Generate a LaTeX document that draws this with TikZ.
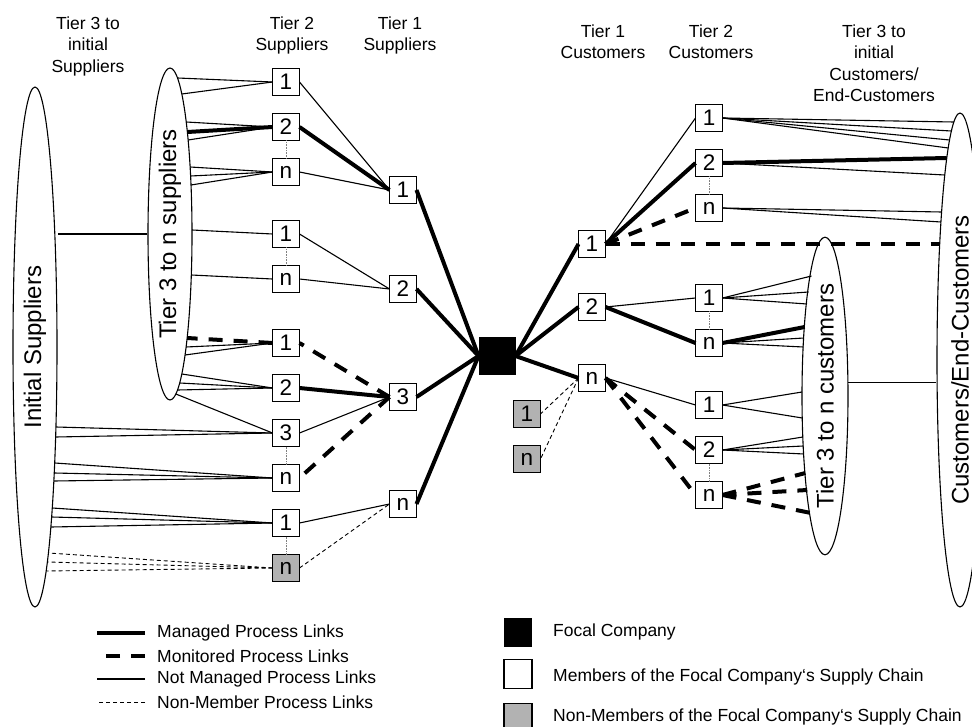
\documentclass[tikz,border=0pt]{standalone}
\usepackage{fontspec}
\setmainfont{Liberation Sans}
\usepackage{tikz}
\usetikzlibrary{shapes,positioning}
\definecolor{nmgrey}{RGB}{178,178,178}
\tikzstyle{managed} = [line width=4pt]
\tikzstyle{monitored} = [line width=4pt, dash pattern=on 14pt off 11pt]
\tikzstyle{notmanaged} = [line width=1.1pt]
\tikzstyle{nonmember} = [line width=0.9pt, dash pattern=on 4pt off 3pt]
\tikzstyle{tierdots} = [line width=0.6pt, densely dotted, gray]
\tikzstyle{member} = [rectangle, draw, fill=white, line width=1.1pt, minimum size=27pt, inner sep=0pt, outer sep=0pt, font=\fontsize{22.5}{25}\selectfont]
\tikzstyle{nonmemberbox} = [member, fill=nmgrey]
\tikzstyle{focalbox} = [rectangle, fill=black, minimum size=37pt, inner sep=0pt, outer sep=0pt]
\tikzstyle{tiergroup} = [ellipse, draw, line width=1.1pt, inner sep=0pt, font=\fontsize{24}{28}\selectfont]
\tikzstyle{tierhead} = [align=center, anchor=north, inner sep=0pt, font=\fontsize{17.5}{21.5}\selectfont]
\tikzstyle{legendtext} = [anchor=west, inner sep=0pt, font=\fontsize{17.5}{21}\selectfont]

\begin{document}
\begin{tikzpicture}[x=1pt, y=-1pt, node distance=18pt]
\useasboundingbox (0,0) rectangle (972,727);

% Column headings
\node (hsup3) [tierhead] at (88,16.5) {Tier 3 to\\initial\\Suppliers};
\node (hsup2) [tierhead] at (292,16.5) {Tier 2\\Suppliers};
\node (hsup1) [tierhead] at (400,16.5) {Tier 1\\Suppliers};
\node (hcus1) [tierhead] at (603,24.5) {Tier 1\\Customers};
\node (hcus2) [tierhead] at (711,24.5) {Tier 2\\Customers};
\node (hcus3) [tierhead] at (874,24.5) {Tier 3 to\\initial\\Customers/\\End-Customers};

% Supplier groups
\node (osup) [tiergroup, minimum width=44pt, minimum height=520pt] at (35,347) {\rotatebox{90}{Initial Suppliers}};
\node (isup) [tiergroup, minimum width=44pt, minimum height=332pt] at (170,234) {\rotatebox{90}{Tier 3 to n suppliers}};

% Tier 2 suppliers
\node (s2a) [member] at (286,82) {1};
\node (s2b) [member, below=of s2a] {2};
\node (s2c) [member, below=of s2b] {n};
\node (s2d) [member] at (286,234) {1};
\node (s2e) [member, below=of s2d] {n};
\node (s2f) [member] at (286,343) {1};
\node (s2g) [member, below=of s2f] {2};
\node (s2h) [member, below=of s2g] {3};
\node (s2i) [member, below=of s2h] {n};
\node (s2j) [member, below=of s2i] {1};
\node (s2k) [nonmemberbox, below=of s2j] {n};

% Tier 1 suppliers
\node (s1a) [member] at (403,190) {1};
\node (s1b) [member] at (403,289) {2};
\node (s1c) [member] at (403,397) {3};
\node (s1d) [member] at (403,504) {n};

% Focal company
\node (focal) [focalbox] at (497,356) {};

% Tier 1 customers
\node (c1a) [member] at (592,244) {1};
\node (c1b) [member] at (592,307) {2};
\node (c1c) [member] at (592,378) {n};
\node (g1) [nonmemberbox] at (527,414) {1};
\node (gn) [nonmemberbox, below=of g1] {n};

% Tier 2 customers
\node (c2a) [member] at (709,118) {1};
\node (c2b) [member, below=of c2a] {2};
\node (c2c) [member, below=of c2b] {n};
\node (c2d) [member] at (709,298) {1};
\node (c2e) [member, below=of c2d] {n};
\node (c2f) [member] at (709,405) {1};
\node (c2g) [member, below=of c2f] {2};
\node (c2h) [member, below=of c2g] {n};

% Customer groups
\node (icus) [tiergroup, minimum width=46pt, minimum height=296pt] at (825,396) {\rotatebox{90}{Tier 3 to n customers}};
\node (ocus) [tiergroup, minimum width=46pt, minimum height=494pt] at (960,360) {\rotatebox{90}{Customers/End-Customers}};

% Links between the groups
\draw[notmanaged] (isup.west) -- (isup.west -| osup.east);
\draw[notmanaged] (icus.30) -- (icus.30 -| ocus.west);

% Links into the supplier ellipses
\foreach \ey/\tgt/\lnk in {78/s2a/notmanaged, 94/s2a/notmanaged, 122/s2b/notmanaged, 132/s2b/managed, 140/s2b/notmanaged, 167/s2c/notmanaged, 176/s2c/notmanaged, 185/s2c/notmanaged, 230/s2d/notmanaged, 275/s2e/notmanaged, 338/s2f/monitored, 347/s2f/notmanaged, 355/s2f/notmanaged, 374/s2g/notmanaged, 383/s2g/notmanaged, 390/s2g/notmanaged, 394/s2h/notmanaged}{
  \pgfmathsetmacro{\ex}{170+22*sqrt(1-((\ey-234)/166)^2)}
  \coordinate (tip) at (\ex,\ey);
  \draw[\lnk] (\tgt.west) -- (tip);
}
\foreach \ey/\tgt/\lnk in {427/s2h/notmanaged, 437/s2h/notmanaged, 463/s2i/notmanaged, 473/s2i/notmanaged, 481/s2i/notmanaged, 508/s2j/notmanaged, 517/s2j/notmanaged, 527/s2j/notmanaged, 553/s2k/nonmember, 562/s2k/nonmember, 571/s2k/nonmember}{
  \pgfmathsetmacro{\ex}{35+22*sqrt(1-((\ey-347)/260)^2)}
  \coordinate (tip) at (\ex,\ey);
  \draw[\lnk] (\tgt.west) -- (tip);
}

% Links into the customer ellipses
\foreach \ey/\src/\lnk in {122/c2a/notmanaged, 131/c2a/notmanaged, 140/c2a/notmanaged, 148/c2a/notmanaged, 158/c2b/managed, 175/c2b/notmanaged, 212/c2c/notmanaged, 222/c2c/notmanaged, 244/c1a/monitored}{
  \pgfmathsetmacro{\ex}{960-23*sqrt(1-((\ey-360)/247)^2)}
  \coordinate (tip) at (\ex,\ey);
  \draw[\lnk] (\src.east) -- (tip);
}
\foreach \ey/\src/\lnk in {276/c2d/notmanaged, 292/c2d/notmanaged, 304/c2d/notmanaged, 327/c2e/managed, 338/c2e/notmanaged, 347/c2e/notmanaged, 392/c2f/notmanaged, 418/c2f/notmanaged, 437/c2g/notmanaged, 446/c2g/notmanaged, 454/c2g/notmanaged, 473/c2h/monitored, 490/c2h/monitored, 513/c2h/monitored}{
  \pgfmathsetmacro{\ex}{825-23*sqrt(1-((\ey-396)/148)^2)}
  \coordinate (tip) at (\ex,\ey);
  \draw[\lnk] (\src.east) -- (tip);
}

% Links between the tiers
\foreach \a/\b/\lnk in {s2a.east/s1a.west/notmanaged, s2b.east/s1a.west/managed, s2c.east/s1a.west/notmanaged, s2d.east/s1b.west/notmanaged, s2e.east/s1b.west/notmanaged, s1c.west/s2f.east/monitored, s2g.east/s1c.west/managed, s2h.east/s1c.west/notmanaged, s1c.west/s2i.east/monitored, s2j.east/s1d.west/notmanaged, s2k.east/s1d.west/nonmember, c1a.east/c2a.west/notmanaged, c1a.east/c2b.west/managed, c1a.east/c2c.west/monitored, c1b.east/c2d.west/notmanaged, c1b.east/c2e.west/managed, c1c.east/c2f.west/notmanaged, c1c.east/c2g.west/monitored, c1c.east/c2h.west/monitored, c1c.west/g1.east/nonmember, c1c.west/gn.east/nonmember}
  \draw[\lnk] (\a) -- (\b);
\foreach \s in {s1a,s1b,s1c,s1d}
  \draw[managed] (\s.east) -- (focal.west);
\foreach \c in {c1a,c1b,c1c}
  \draw[managed] (focal.east) -- (\c.west);
\foreach \a/\b in {s2b/s2c, s2d/s2e, s2h/s2i, s2j/s2k, c2b/c2c, c2d/c2e, c2g/c2h}
  \draw[tierdots] (\a.south) -- (\b.north);

% Legend
\node (lgmanaged) [legendtext] at (157,633) {Managed Process Links};
\node (lgmonitored) [legendtext] at (157,656) {Monitored Process Links};
\node (lgnotmanaged) [legendtext] at (157,679) {Not Managed Process Links};
\node (lgnonmember) [legendtext] at (157,702) {Non-Member Process Links};
\draw[managed] ([xshift=-12pt]lgmanaged.west) -- ++(-48pt,0);
\draw[monitored] ([xshift=-12pt]lgmonitored.west) -- ++(-48pt,0);
\draw[notmanaged] ([xshift=-12pt]lgnotmanaged.west) -- ++(-48pt,0);
\draw[nonmember] ([xshift=-12pt]lgnonmember.west) -- ++(-48pt,0);

\node (lgfocal) [focalbox, minimum width=28pt, minimum height=29pt] at (518,632) {};
\node (lgmember) [member, minimum width=28pt, minimum height=29pt, below=13pt of lgfocal] {};
\node (lgnonmemberbox) [nonmemberbox, minimum width=28pt, minimum height=29pt, below=15pt of lgmember] {};
\node (lgfocaltext) [legendtext, right=21pt of lgfocal] {Focal Company};
\node (lgmembertext) [legendtext, right=21pt of lgmember, yshift=-3pt] {Members of the Focal Company‘s Supply Chain};
\node (lgnonmembertext) [legendtext, right=21pt of lgnonmemberbox, yshift=1.5pt] {Non-Members of the Focal Company‘s Supply Chain};
\end{tikzpicture}
\end{document}
